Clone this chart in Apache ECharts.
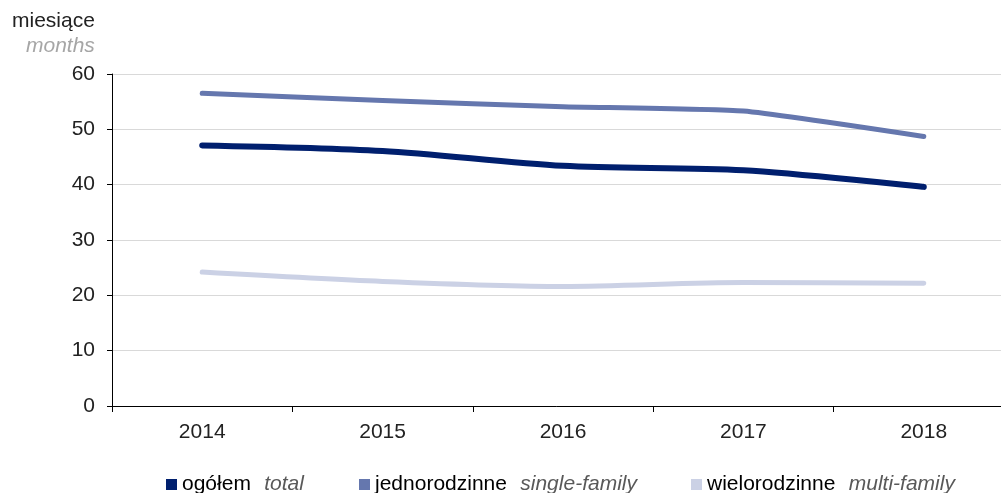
<!DOCTYPE html>
<html>
<head>
<meta charset="utf-8">
<script src="https://cdn.jsdelivr.net/npm/echarts@6/dist/echarts.min.js"></script>
<style>
html,body{margin:0;padding:0;background:#fff;}
#c{width:1001px;height:493px;}
</style>
</head>
<body>
<div id="c"></div>
<script>
const categories = ['2014', '2015', '2016', '2017', '2018'];
const total = [47.1, 46.1, 43.4, 42.6, 39.6];
const singleFamily = [56.5, 55.2, 54.1, 53.3, 48.7];
const multiFamily = [24.2, 22.5, 21.6, 22.3, 22.2];
const seriesNames = ['ogółem', 'jednorodzinne', 'wielorodzinne'];
const seriesNamesEn = ['total', 'single-family', 'multi-family'];
const yTicks = { min: 0, max: 60, interval: 10 };

const colors = ['#001f6e', '#6577ae', '#cbd1e5'];
const widths = [6, 5, 5];
const smoothness = [0.3, 0.15, 0.3];
const FONT = '"Liberation Sans", Arial, sans-serif';

const chart = echarts.init(document.getElementById('c'), null, { renderer: 'canvas' });

function legendFor(i, left) {
  return {
    data: [seriesNames[i]],
    left: left,
    top: 469,
    icon: 'rect',
    itemWidth: 11,
    itemHeight: 11,
    itemGap: 0,
    textStyle: {
      fontFamily: FONT,
      rich: {
        a: { fontSize: 21, color: '#000', fontFamily: FONT },
        b: { fontSize: 21, color: '#595959', fontStyle: 'italic', fontFamily: FONT }
      }
    },
    formatter: function (name) {
      const k = seriesNames.indexOf(name);
      return '{a|' + name + '}    {b|' + seriesNamesEn[k] + '}';
    }
  };
}

const seriesData = [total, singleFamily, multiFamily];

chart.setOption({
  animation: false,
  backgroundColor: '#fff',
  title: {
    text: '{a|miesiące}\n{b|months}',
    left: 7,
    top: 4,
    textStyle: {
      fontWeight: 'normal',
      rich: {
        a: { fontSize: 21, color: '#222', fontWeight: 'normal', fontFamily: FONT, align: 'right', lineHeight: 25 },
        b: { fontSize: 21, color: '#a6a6a6', fontWeight: 'normal', fontStyle: 'italic', fontFamily: FONT, align: 'right', lineHeight: 25 }
      }
    }
  },
  legend: [legendFor(0, 161), legendFor(1, 354), legendFor(2, 686)],
  grid: { left: 112, top: 74, width: 902, height: 332, containLabel: false, outerBoundsMode: 'none' },
  xAxis: {
    type: 'category',
    data: categories,
    boundaryGap: true,
    axisLine: { lineStyle: { color: '#000', width: 1 } },
    axisTick: { show: true, length: 6, lineStyle: { color: '#000' } },
    axisLabel: { color: '#222', fontSize: 21, fontFamily: FONT, margin: 16 }
  },
  yAxis: {
    type: 'value',
    min: yTicks.min,
    max: yTicks.max,
    interval: yTicks.interval,
    axisLine: { show: true, lineStyle: { color: '#000', width: 1 } },
    axisTick: { show: true, length: 5, lineStyle: { color: '#000' } },
    axisLabel: { color: '#222', fontSize: 21, fontFamily: FONT, margin: 17 },
    splitLine: { show: true, lineStyle: { color: '#d9d9d9', width: 1 } }
  },
  series: seriesNames.map((n, i) => ({
    name: n,
    type: 'line',
    data: seriesData[i],
    smooth: smoothness[i],
    showSymbol: false,
    symbol: 'none',
    color: colors[i],
    lineStyle: { color: colors[i], width: widths[i], cap: 'round', join: 'round' },
    itemStyle: { color: colors[i] },
    z: 3 - i
  }))
});
</script>
</body>
</html>
